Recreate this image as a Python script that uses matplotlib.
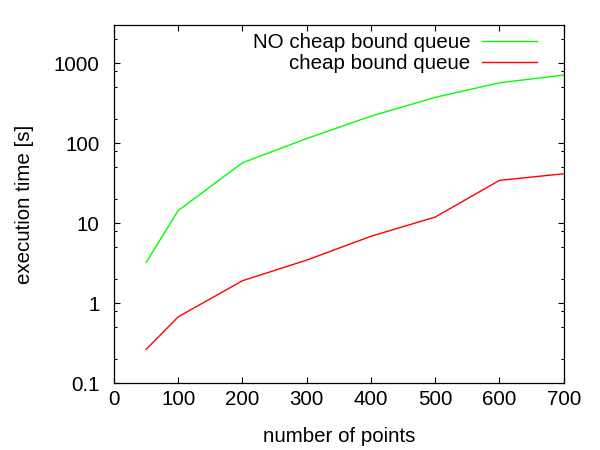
import numpy as np
import matplotlib
matplotlib.use("Agg")
import matplotlib.pyplot as plt
from matplotlib.ticker import LogLocator, NullFormatter

plt.rcParams['font.family'] = ['Liberation Sans', 'DejaVu Sans']

# data
points = [50, 100, 200, 300, 400, 500, 600, 700]
t_no_cheap = [3.25, 14.5, 57.2, 115, 219, 376, 572, 714]
t_cheap = [0.266, 0.68, 1.92, 3.48, 6.9, 12.0, 34.5, 41.7]
labels = ["NO cheap bound queue", "cheap bound queue"]
yticks = [0.1, 1, 10, 100, 1000]
ytick_labels = ["0.1", "1", "10", "100", "1000"]

fs = 14.8

fig = plt.figure(figsize=(6, 4.5), dpi=100)
ax = fig.add_axes([0.19, 0.148, 0.7495, 0.796])

ax.plot(points, t_no_cheap, color='#00ff00', lw=1.0, label=labels[0])
ax.plot(points, t_cheap, color='#ff0000', lw=1.0, label=labels[1])

ax.set_yscale('log')
ax.set_xlim(0, 700)
ax.set_ylim(0.1, 3000)
ax.set_xticks(np.arange(0, 701, 100))
ax.set_yticks(yticks)
ax.set_yticklabels(ytick_labels)
ax.yaxis.set_minor_locator(LogLocator(base=10, subs=[2, 5, 8]))
ax.yaxis.set_minor_formatter(NullFormatter())

ax.tick_params(which='both', direction='in', top=True, right=True, labelsize=fs, colors='black')
ax.tick_params(which='major', length=4.5, width=0.8)
ax.tick_params(which='minor', length=2.5, width=0.8)
ax.tick_params(axis='x', pad=5)
ax.tick_params(axis='y', pad=10.5)
for s in ax.spines.values():
    s.set_linewidth(0.9)

ax.set_xlabel("number of points", fontsize=fs, labelpad=13)
ax.set_ylabel("execution time [s]", fontsize=fs, labelpad=14)

leg = ax.legend(loc='upper right', frameon=False, markerfirst=False, fontsize=fs,
                handlelength=2.7, handletextpad=0.55, labelspacing=0.1,
                borderaxespad=0.0, borderpad=0.4, bbox_to_anchor=(0.959, 1.0))
for col in leg._legend_handle_box.get_children():
    col.align = "right"

fig.savefig("out.png", dpi=100)
